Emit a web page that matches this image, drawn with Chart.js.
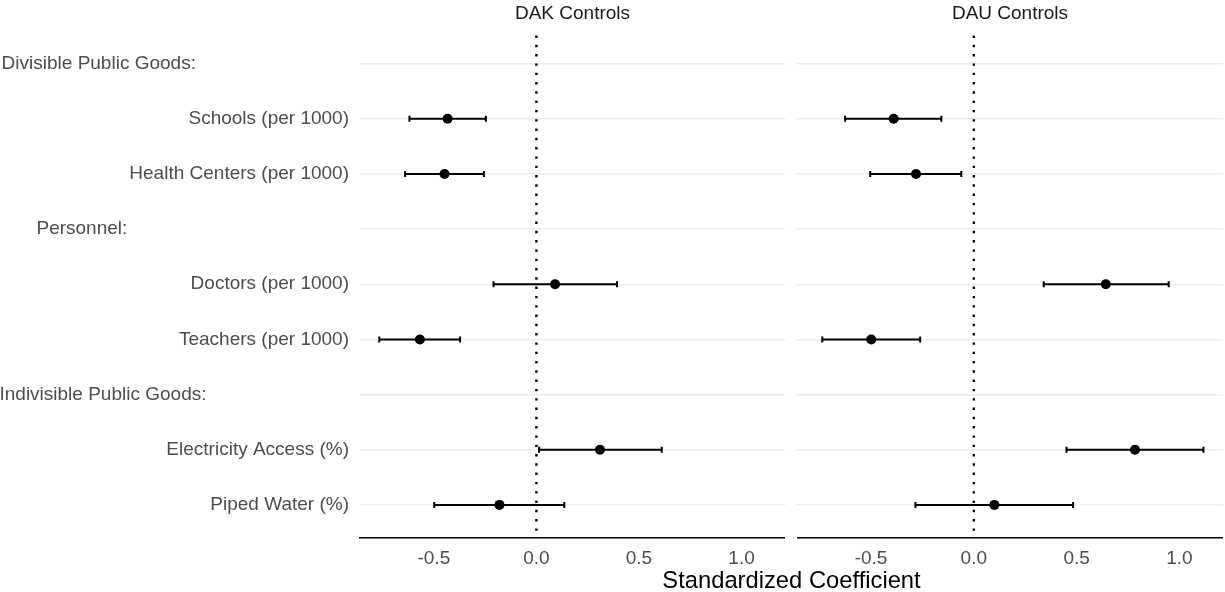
<!DOCTYPE html>
<html>
<head>
<meta charset="utf-8">
<script src="https://cdn.jsdelivr.net/npm/chart.js@4.4.1/dist/chart.umd.min.js"></script>
<style>
  html, body { margin: 0; padding: 0; background: #fff; }
  #quadro { position: relative; width: 1225px; height: 592px; overflow: hidden; }
  #grafico-dak { position: absolute; left: 0; top: 0; }
  #grafico-dau { position: absolute; left: 797px; top: 0; }
  #titulo-x {
    position: absolute; left: 360px; width: 863px; top: 566px;
    text-align: center; line-height: 28px; color: #000;
    font: 23.75px "Liberation Sans", Arial, sans-serif;
  }
</style>
</head>
<body>
<div id="quadro">
  <canvas id="grafico-dak" width="785" height="592"></canvas>
  <canvas id="grafico-dau" width="426" height="592"></canvas>
  <div id="titulo-x">Standardized Coefficient</div>
</div>
<script>
const rotulos = [
  "Divisible Public Goods:",
  "Schools (per 1000)",
  "Health Centers (per 1000)",
  "Personnel:",
  "Doctors (per 1000)",
  "Teachers (per 1000)",
  "Indivisible Public Goods:",
  "Electricity Access (%)",
  "Piped Water (%)",
];

// DAK Controls
const dakCoef = [null, -0.433, -0.448, null, 0.091, -0.568, null, 0.310, -0.180];
const dakInf  = [null, -0.619, -0.640, null, -0.209, -0.766, null, 0.013, -0.498];
const dakSup  = [null, -0.246, -0.256, null, 0.393, -0.372, null, 0.611, 0.136];

// DAU Controls
const dauCoef = [null, -0.390, -0.281, null, 0.642, -0.499, null, 0.784, 0.100];
const dauInf  = [null, -0.626, -0.504, null, 0.340, -0.737, null, 0.451, -0.284];
const dauSup  = [null, -0.158, -0.061, null, 0.948, -0.261, null, 1.117, 0.483];

const ticksX = [-0.5, 0, 0.5, 1.0];

Chart.defaults.font.family = '"Liberation Sans", Arial, sans-serif';

// recuo dos cabeçalhos (espaços à direita, como no original)
const recuoCabecalho = { 0: 29, 3: 42, 6: 27 };

const linhaZero = {
  id: "linhaZero",
  beforeDatasetsDraw(chart) {
    const { ctx, chartArea, scales } = chart;
    const x = scales.x.getPixelForValue(0);
    ctx.save();
    ctx.strokeStyle = "#000";
    ctx.lineWidth = 2.4;
    ctx.setLineDash([2.4, 6.9]);
    ctx.lineDashOffset = -5;
    ctx.beginPath();
    ctx.moveTo(x, chartArea.top);
    ctx.lineTo(x, chartArea.bottom);
    ctx.stroke();
    ctx.restore();
  },
};

const montarDatasets = (coef, inf, sup) => {
  const pontos = [];
  const intervalos = [];
  const barras = [];
  coef.forEach((c, i) => {
    if (c === null) return;
    pontos.push({ x: c, y: i });
    intervalos.push({ x: inf[i], y: i }, { x: sup[i], y: i }, { x: sup[i], y: null });
    barras.push({ x: inf[i], y: i }, { x: sup[i], y: i });
  });
  return [
    {
      data: pontos,
      order: 0,
      pointRadius: 5,
      pointBackgroundColor: "#000",
      pointBorderWidth: 0,
    },
    {
      data: intervalos,
      order: 1,
      showLine: true,
      spanGaps: false,
      borderColor: "#000",
      borderWidth: 2,
      pointRadius: 0,
    },
    {
      data: barras,
      order: 2,
      pointStyle: "line",
      rotation: 90,
      pointRadius: 3,
      pointBorderColor: "#000",
      pointBorderWidth: 2,
    },
  ];
};

const criarPainel = (id, titulo, coef, inf, sup, comRotulos) => {
  const ctx = document.getElementById(id).getContext("2d");
  return new Chart(ctx, {
    type: "scatter",
    data: { datasets: montarDatasets(coef, inf, sup) },
    plugins: [linhaZero],
    options: {
      responsive: false,
      animation: false,
      layout: { padding: 0, autoPadding: false },
      plugins: {
        legend: { display: false },
        tooltip: { enabled: false },
        title: {
          display: true,
          text: titulo,
          fullSize: false,
          color: "#1a1a1a",
          font: { size: 19, weight: "normal" },
          padding: { top: 2, bottom: 5.7 },
        },
      },
      scales: {
        x: {
          type: "linear",
          min: -0.86,
          max: 1.212,
          afterBuildTicks: (s) => { s.ticks = ticksX.map((v) => ({ value: v })); },
          afterFit: (s) => { s.height = 54; },
          grid: { drawOnChartArea: false, drawTicks: false },
          border: { display: true, color: "#000", width: 1.6 },
          ticks: {
            color: "#4d4d4d",
            font: { size: 19 },
            padding: 9,
            callback: (v) => Number(v).toFixed(1),
          },
        },
        y: {
          type: "linear",
          min: -0.6,
          max: 8.6,
          reverse: true,
          afterBuildTicks: (s) => { s.ticks = rotulos.map((_, i) => ({ value: i })); },
          afterFit: (s) => { s.width = comRotulos ? 360 : 0; },
          grid: { color: "#ebebeb", lineWidth: 1.4, drawTicks: false },
          border: { display: false },
          ticks: {
            display: comRotulos,
            autoSkip: false,
            color: "#4d4d4d",
            font: { size: 19 },
            padding: 11,
            callback: (v) => rotulos[v] + " ".repeat(recuoCabecalho[v] || 0),
          },
        },
      },
    },
  });
};

criarPainel("grafico-dak", "DAK Controls", dakCoef, dakInf, dakSup, true);
criarPainel("grafico-dau", "DAU Controls", dauCoef, dauInf, dauSup, false);
</script>
</body>
</html>
